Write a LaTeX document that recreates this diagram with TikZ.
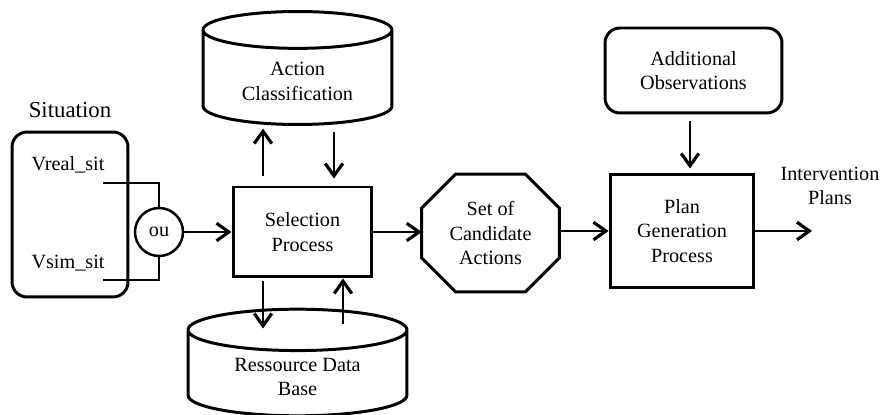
\documentclass[tikz,border=0pt]{standalone}
\usepackage{fontspec}
\setmainfont{Liberation Serif}
\usetikzlibrary{shapes.geometric,arrows.meta,calc}
\begin{document}
\begin{tikzpicture}[x=0.02cm, y=-0.02cm,
  every node/.style={font=\fontsize{11.5}{14}\selectfont, align=center},
  proc/.style={draw, line width=1.7pt, minimum width=2.78cm, minimum height=1.8cm},
  roundbox/.style={draw, line width=1.7pt, rounded corners=0.3cm},
  db/.style={draw, line width=1.7pt, cylinder, shape border rotate=90, shape aspect=0.3, anchor=shape center},
  wire/.style={line width=1.1pt},
  flow/.style={line width=1.1pt, -{Straight Barb[length=7pt, width=10pt, line width=1.8pt]}}]
\useasboundingbox (0,0) rectangle (887,415);
\node (sitlab) at (70,110) {\fontsize{13}{15}\selectfont Situation};
\node[roundbox, minimum width=2.32cm, minimum height=3.3cm] (sit) at (70,214.5) {};
\node (vreal) at (68,165) {Vreal\_sit};
\node (vsim) at (68,263) {Vsim\_sit};
\coordinate (vr) at (103,183);
\coordinate (vs) at (103,280);
\node[draw, circle, line width=1.4pt, minimum size=0.96cm, inner sep=0pt] (ou) at (159,232) {ou};
\node[proc] (sel) at (302.5,232) {Selection\\Process};
\node[db, minimum width=3.78cm, minimum height=2.26cm] (actcl) at (297.5,68) {Action\\Classification};
\node[db, minimum width=4.38cm, minimum height=2.02cm] (resdb) at (297.5,362.5) {Ressource Data\\Base};
\node[minimum width=2.74cm, minimum height=2.34cm] (cand) at (490.5,233) {Set of\\Candidate\\Actions};
\draw[line width=1.7pt] ($(cand.north west)+(34,0)$) -- ($(cand.north east)+(-34,0)$)
  -- ($(cand.north east)+(0,34)$) -- ($(cand.south east)+(0,-34)$)
  -- ($(cand.south east)+(-34,0)$) -- ($(cand.south west)+(34,0)$)
  -- ($(cand.south west)+(0,-34)$) -- ($(cand.north west)+(0,34)$) -- cycle;
\node[proc, minimum width=2.88cm, minimum height=2.28cm] (plan) at (682,231) {Plan\\Generation\\Process};
\node[roundbox, minimum width=3.54cm, minimum height=1.7cm] (addobs) at (693.5,70.5) {Additional\\Observations};
\node (ilab) at (830,186) {Intervention\\Plans};
\coordinate (planout) at (812,231);
% connections
\draw[wire] (vr) -| (ou.north);
\draw[wire] (vs) -| (ou.south);
\draw[flow] (ou) -- (sel);
\draw[flow] ($(sel.north)+(-39.5,-10)$) -- +(0,-47);
\draw[flow] ($(sel.north)+(31.5,-54)$) -- +(0,47);
\draw[flow] ($(sel.south)+(-39.5,3)$) -- +(0,47);
\draw[flow] ($(sel.south)+(40.5,46)$) -- +(0,-46);
\draw[flow] (sel.east) -- (sel.east -| cand.west);
\draw[flow] (plan.west -| cand.east) -- (plan.west);
\draw[flow] ($(addobs.south)+(-3.5,7)$) -- +(0,47);
\draw[flow] (plan.east) -- (planout);
\end{tikzpicture}
\end{document}
